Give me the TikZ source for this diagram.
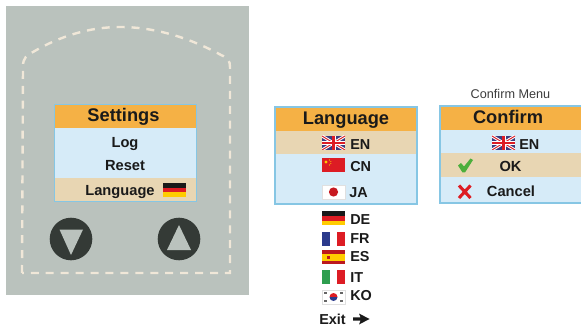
\documentclass[tikz,border=0pt]{standalone}
\usepackage{fontspec}
\setmainfont{Liberation Sans}
\definecolor{panelc}{HTML}{BAC2BD}
\definecolor{dashc}{HTML}{F0E7D8}
\definecolor{headc}{HTML}{F5B145}
\definecolor{bluec}{HTML}{D6EBF8}
\definecolor{beigec}{HTML}{E8D6B3}
\definecolor{edgec}{HTML}{86C6E4}
\definecolor{btnc}{HTML}{343A36}
\definecolor{inkc}{HTML}{1A1A1A}
\definecolor{ukblue}{HTML}{3B3B7E}
\definecolor{redc}{HTML}{DD1C24}
\definecolor{yelc}{HTML}{FFCC00}
\definecolor{frblue}{HTML}{2B3A8C}
\definecolor{itgreen}{HTML}{2E9E4F}
\definecolor{okgreen}{HTML}{4CAF3C}
\tikzset{
  x=0.75pt,y=-0.75pt,
  head/.style={font=\bfseries\fontsize{13.7}{16}\selectfont,text=inkc,inner sep=0pt},
  item/.style={font=\bfseries\fontsize{11}{13}\selectfont,text=inkc,inner sep=0pt},
  code/.style={font=\bfseries\fontsize{10.8}{13}\selectfont,text=inkc,inner sep=0pt,anchor=west},
  flagedge/.style={draw=black!12,line width=0.3pt},
  flagde/.pic={
    \fill[black!90] (0,0) rectangle (23,4.7);
    \fill[redc] (0,4.7) rectangle (23,9.4);
    \fill[yelc] (0,9.4) rectangle (23,14);},
  flagfr/.pic={
    \fill[frblue] (0,0) rectangle (7.7,14);
    \fill[white] (7.7,0) rectangle (15.3,14);
    \fill[redc] (15.3,0) rectangle (23,14);},
  flages/.pic={
    \fill[redc!85!black] (0,0) rectangle (23,14);
    \fill[yelc] (0,3.5) rectangle (23,10.5);
    \fill[redc!85!black] (4.5,5.5) rectangle (8,8.8);},
  flagit/.pic={
    \fill[itgreen] (0,0) rectangle (7.7,14);
    \fill[white] (7.7,0) rectangle (15.3,14);
    \fill[redc] (15.3,0) rectangle (23,14);},
  flagcn/.pic={
    \fill[redc] (0,0) rectangle (23,14);
    \fill[yelc] (4,4) circle (1.6);
    \foreach \a/\b in {7.5/2,8.8/3.6,8.8/5.6,7.5/7}{\fill[yelc] (\a,\b) circle (0.55);}},
  flagja/.pic={
    \fill[white] (0,0) rectangle (23,14);
    \fill[redc!90!black] (11.5,7) circle (4.6);
    \draw[flagedge] (0,0) rectangle (23,14);},
  flagko/.pic={
    \fill[white] (0,0) rectangle (23,14);
    \fill[redc] (7.5,7) arc[start angle=180,end angle=360,x radius=4,y radius=4];
    \fill[frblue] (7.5,7) arc[start angle=180,end angle=0,x radius=4,y radius=4];
    \foreach \a/\b in {3.5/3,19.5/3,3.5/11,19.5/11}{\draw[black!60,line width=0.8pt] (\a-1.5,\b) -- (\a+1.5,\b);}
    \draw[flagedge] (0,0) rectangle (23,14);},
  flaguk/.pic={
    \begin{scope}
    \clip (0,0) rectangle (23,14);
    \fill[ukblue] (0,0) rectangle (23,14);
    \draw[white,line width=2.2pt] (0,0) -- (23,14) (0,14) -- (23,0);
    \draw[redc,line width=0.7pt] (0,0) -- (23,14) (0,14) -- (23,0);
    \draw[white,line width=3pt] (11.5,0) -- (11.5,14) (0,7) -- (23,7);
    \draw[redc,line width=1.7pt] (11.5,0) -- (11.5,14) (0,7) -- (23,7);
    \end{scope}},
}
\begin{document}
\begin{tikzpicture}
\useasboundingbox (0,0) rectangle (581,331);
% device
\fill[panelc] (6,6) rectangle (249,295);
\draw[dashc,line width=1.8pt,dash pattern=on 6pt off 5.2pt]
  (22,273) -- (23,66) .. controls (23,58) and (27,55) .. (33,52)
  .. controls (60,36) and (90,27) .. (120,27)
  .. controls (155,27) and (190,38) .. (221,55)
  .. controls (228,58) and (230,61) .. (230,67) -- (230,273) -- cycle;
% settings screen
\fill[headc] (54,104) rectangle (196,128);
\fill[bluec] (54,128) rectangle (196,178);
\fill[beigec] (54,178) rectangle (196,201);
\draw[edgec,line width=0.6pt] (54,104) rectangle (196,201);
\node[head] (settings) at (123.5,117) {Settings};
\node[item] (log) at (125,144) {Log};
\node[item] (reset) at (125,165.5) {Reset};
\node[item] (language) at (120,192) {Language};
\pic at (163,183) {flagde};
% buttons
\fill[btnc] (71,239) circle (21.3);
\fill[btnc] (179,239) circle (21.3);
\fill[panelc] (59.5,229.5) -- (83,229.5) -- (71,255) -- cycle;
\fill[panelc] (179,225) -- (191,250) -- (167,250) -- cycle;
% language screen
\fill[headc] (275,107) rectangle (417,131);
\fill[beigec] (275,131) rectangle (417,154);
\fill[bluec] (275,154) rectangle (417,204);
\draw[edgec,line width=0.8pt] (275,107) rectangle (417,204);
\node[head] (langhead) at (346,120) {Language};
\pic at (322,136) {flaguk};
\node[code] (en) at (350,144.5) {EN};
\pic at (322,158) {flagcn};
\node[code] (cn) at (350,167) {CN};
\pic at (322,185) {flagja};
\node[code] (ja) at (349,193) {JA};
% further languages
\pic at (322,211.5) {flagde};
\node[code] (de) at (350,220) {DE};
\pic at (322,231.5) {flagfr};
\node[code] (fr) at (350,238.5) {FR};
\pic at (322,250) {flages};
\node[code] (es) at (350,257) {ES};
\pic at (322,270) {flagit};
\node[code] (it) at (350,277.5) {IT};
\pic at (322,290) {flagko};
\node[code] (ko) at (350,296) {KO};
\node[code] (exit) at (319,319) {Exit};
\fill[inkc] (353,317.3) -- (360.5,317.3) -- (359,313.5) -- (369.5,319) -- (359,324.5) -- (360.5,320.7) -- (353,320.7) -- cycle;
% confirm screen
\node[font=\fontsize{9.5}{11}\selectfont,text=inkc!85,inner sep=0pt] (menu) at (510.5,94) {Confirm Menu};
\fill[headc] (440,106) rectangle (581,130);
\fill[bluec] (440,130) rectangle (581,153);
\fill[beigec] (440,153) rectangle (581,177);
\fill[bluec] (440,177) rectangle (581,203);
\draw[edgec,line width=0.8pt] (581,106) -- (440,106) -- (440,203) -- (581,203);
\node[head] (confirm) at (508,116.5) {Confirm};
\pic at (492,136) {flaguk};
\node[code] (en2) at (519,144.5) {EN};
\node[item] (ok) at (510.5,166) {OK};
\node[item] (cancel) at (511,191.5) {Cancel};
\fill[okgreen] (458,165.5) -- (461,163) -- (464,166.5) -- (470.5,158.5) -- (473,160) -- (465,172.5) -- (462.5,172.5) -- cycle;
\draw[redc,line width=2.3pt] (459,185.5) -- (470.5,198) (470.5,185.5) -- (459,198);
\end{tikzpicture}
\end{document}
